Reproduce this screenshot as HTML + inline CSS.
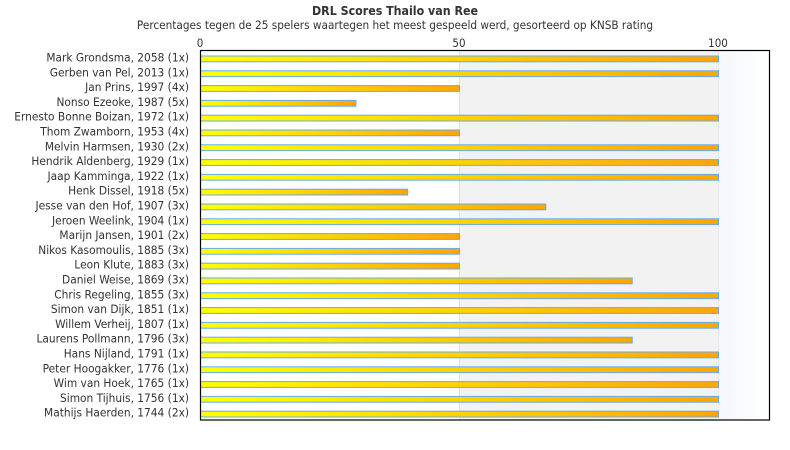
<!DOCTYPE html>
<html><head><meta charset="utf-8"><style>
html,body{margin:0;padding:0;background:#fff;}
svg{display:block;}
text{font-family:"DejaVu Sans Condensed","DejaVu Sans","Liberation Sans",sans-serif;fill:#333;}
</style></head><body>
<svg width="790" height="450" viewBox="0 0 790 450" xmlns="http://www.w3.org/2000/svg">
<defs>
<linearGradient id="g" x1="0" y1="0" x2="1" y2="0">
<stop offset="0" stop-color="#ffff00"/><stop offset="1" stop-color="#ffa500"/>
</linearGradient>
<linearGradient id="bg" x1="0" y1="0" x2="1" y2="0">
<stop offset="0" stop-color="#f3f7fb"/><stop offset="1" stop-color="#ffffff"/>
</linearGradient>
</defs>
<text x="395" y="15" text-anchor="middle" font-size="12.3" font-weight="bold">DRL Scores Thailo van Ree</text>
<text x="395" y="29" text-anchor="middle" font-size="11.7">Percentages tegen de 25 spelers waartegen het meest gespeeld werd, gesorteerd op KNSB rating</text>
<rect x="459" y="50" width="259" height="370" fill="#f2f2f2"/>
<rect x="718" y="50" width="52" height="370" fill="url(#bg)"/>
<line x1="459.5" y1="50" x2="459.5" y2="420" stroke="#e2e2e2"/>
<line x1="718.5" y1="50" x2="718.5" y2="420" stroke="#e8e8e8"/>
<text x="200" y="47" text-anchor="middle" font-size="11.5">0</text>
<text x="459" y="47" text-anchor="middle" font-size="11.5">50</text>
<text x="718" y="47" text-anchor="middle" font-size="11.5">100</text>
<g font-size="11.8" text-anchor="end">
<text x="189" y="61.5">Mark Grondsma, 2058 (1x)</text>
<text x="189" y="76.3">Gerben van Pel, 2013 (1x)</text>
<text x="189" y="91.1">Jan Prins, 1997 (4x)</text>
<text x="189" y="105.9">Nonso Ezeoke, 1987 (5x)</text>
<text x="189" y="120.7">Ernesto Bonne Boizan, 1972 (1x)</text>
<text x="189" y="135.5">Thom Zwamborn, 1953 (4x)</text>
<text x="189" y="150.3">Melvin Harmsen, 1930 (2x)</text>
<text x="189" y="165.1">Hendrik Aldenberg, 1929 (1x)</text>
<text x="189" y="179.9">Jaap Kamminga, 1922 (1x)</text>
<text x="189" y="194.7">Henk Dissel, 1918 (5x)</text>
<text x="189" y="209.5">Jesse van den Hof, 1907 (3x)</text>
<text x="189" y="224.3">Jeroen Weelink, 1904 (1x)</text>
<text x="189" y="239.1">Marijn Jansen, 1901 (2x)</text>
<text x="189" y="253.9">Nikos Kasomoulis, 1885 (3x)</text>
<text x="189" y="268.7">Leon Klute, 1883 (3x)</text>
<text x="189" y="283.5">Daniel Weise, 1869 (3x)</text>
<text x="189" y="298.3">Chris Regeling, 1855 (3x)</text>
<text x="189" y="313.1">Simon van Dijk, 1851 (1x)</text>
<text x="189" y="327.9">Willem Verheij, 1807 (1x)</text>
<text x="189" y="342.7">Laurens Pollmann, 1796 (3x)</text>
<text x="189" y="357.5">Hans Nijland, 1791 (1x)</text>
<text x="189" y="372.3">Peter Hoogakker, 1776 (1x)</text>
<text x="189" y="387.1">Wim van Hoek, 1765 (1x)</text>
<text x="189" y="401.9">Simon Tijhuis, 1756 (1x)</text>
<text x="189" y="416.7">Mathijs Haerden, 1744 (2x)</text>
</g>
<g fill="url(#g)" stroke="#66aaee" stroke-width="1">
<rect x="200.5" y="56" width="518" height="5.8"/>
<rect x="200.5" y="70.8" width="518" height="5.8"/>
<rect x="200.5" y="85.6" width="259" height="5.8"/>
<rect x="200.5" y="100.4" width="155.4" height="5.8"/>
<rect x="200.5" y="115.2" width="518" height="5.8"/>
<rect x="200.5" y="130" width="259" height="5.8"/>
<rect x="200.5" y="144.8" width="518" height="5.8"/>
<rect x="200.5" y="159.6" width="518" height="5.8"/>
<rect x="200.5" y="174.4" width="518" height="5.8"/>
<rect x="200.5" y="189.2" width="207.2" height="5.8"/>
<rect x="200.5" y="204" width="345.3" height="5.8"/>
<rect x="200.5" y="218.8" width="518" height="5.8"/>
<rect x="200.5" y="233.6" width="259" height="5.8"/>
<rect x="200.5" y="248.4" width="259" height="5.8"/>
<rect x="200.5" y="263.2" width="259" height="5.8"/>
<rect x="200.5" y="278" width="431.7" height="5.8"/>
<rect x="200.5" y="292.8" width="518" height="5.8"/>
<rect x="200.5" y="307.6" width="518" height="5.8"/>
<rect x="200.5" y="322.4" width="518" height="5.8"/>
<rect x="200.5" y="337.2" width="431.7" height="5.8"/>
<rect x="200.5" y="352" width="518" height="5.8"/>
<rect x="200.5" y="366.8" width="518" height="5.8"/>
<rect x="200.5" y="381.6" width="518" height="5.8"/>
<rect x="200.5" y="396.4" width="518" height="5.8"/>
<rect x="200.5" y="411.2" width="518" height="5.8"/>
</g>
<rect x="200.5" y="50.5" width="569" height="369.5" fill="none" stroke="#000" stroke-width="1.2"/>
</svg>
</body></html>
